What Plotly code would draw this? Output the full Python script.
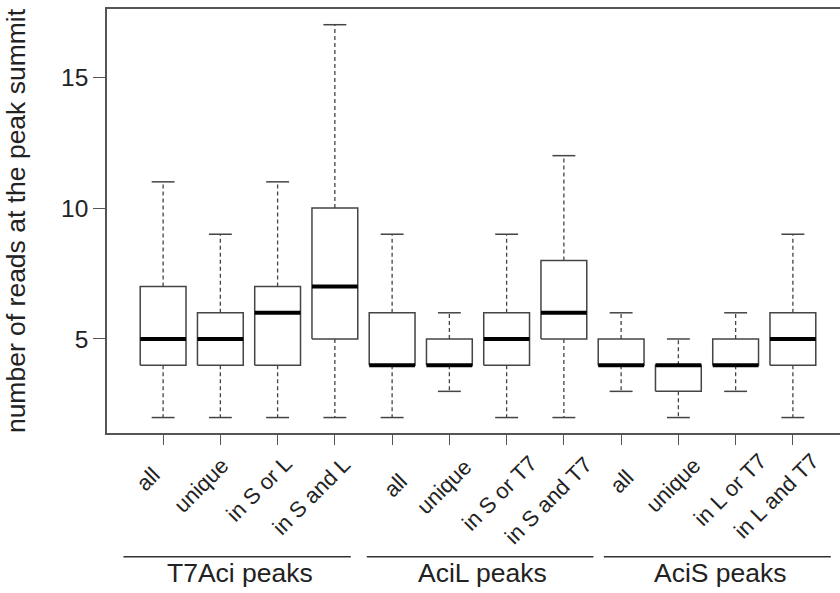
import plotly.graph_objects as go

# ---- data ----
categories = ["all", "unique", "in S or L", "in S and L",
              "all", "unique", "in S or T7", "in S and T7",
              "all", "unique", "in L or T7", "in L and T7"]
groups = ["T7Aci peaks", "AciL peaks", "AciS peaks"]
lower_whisker = [2, 2, 2, 2, 2, 3, 2, 2, 3, 2, 3, 2]
q1 =            [4, 4, 4, 5, 4, 4, 4, 5, 4, 3, 4, 4]
median =        [5, 5, 6, 7, 4, 4, 5, 6, 4, 4, 4, 5]
q3 =            [7, 6, 7, 10, 6, 5, 6, 8, 5, 4, 5, 6]
upper_whisker = [11, 9, 11, 17, 9, 6, 9, 12, 6, 5, 6, 9]
y_ticks = [5, 10, 15]

# ---- layout constants ----
FONT = "Liberation Sans, Arial, sans-serif"
FS_BIG = 26.5
FS_YT = 24.5
FS_XT = 22
TXT = "#222222"
LINE = "#444444"
BOXW = 0.4
CAPW = 0.2
W, H = 840, 593
ML, MR, MT, MB = 107, 0, 9, 160
X_RANGE = [0.02, 12.823]
Y_RANGE = [1.41, 17.6]
GROUP_SPANS = [(0.307, 4.279), (4.558, 8.516), (8.698, 12.663)]
# rotated category label placement: centre offset from tick (px) and centre height (px)
LABEL_DX = [-15.5, -19.5, -18.3, -23, 3, -5, -7.5, -15.7, 0.7, -5.8, -5.5, -16]
LABEL_CY = [479.2, 485, 488.3, 495.8, 485, 486.5, 493.3, 500, 481.7, 485, 489.2, 495.8]

xs = list(range(1, len(categories) + 1))

wx, wy, cx, cy, bx, by, mx, my = [], [], [], [], [], [], [], []
for i, x in enumerate(xs):
    wx += [x, x, None, x, x, None]
    wy += [q3[i], upper_whisker[i], None, q1[i], lower_whisker[i], None]
    cx += [x - CAPW, x + CAPW, None, x - CAPW, x + CAPW, None]
    cy += [upper_whisker[i], upper_whisker[i], None, lower_whisker[i], lower_whisker[i], None]
    bx += [x - BOXW, x + BOXW, x + BOXW, x - BOXW, x - BOXW, None]
    by += [q1[i], q1[i], q3[i], q3[i], q1[i], None]
    mx += [x - BOXW, x + BOXW, None]
    my += [median[i], median[i], None]

fig = go.Figure()
fig.add_trace(go.Scatter(x=wx, y=wy, mode="lines", hoverinfo="skip",
                         line=dict(color=LINE, width=1.3, dash="4px,3px")))
fig.add_trace(go.Scatter(x=bx, y=by, mode="lines", fill="toself", fillcolor="white",
                         hoverinfo="skip", line=dict(color=LINE, width=1.5)))
fig.add_trace(go.Scatter(x=cx, y=cy, mode="lines", hoverinfo="skip",
                         line=dict(color=LINE, width=1.5)))
fig.add_trace(go.Scatter(x=mx, y=my, mode="lines", hoverinfo="skip",
                         line=dict(color="black", width=4)))

def py_to_paper(py):
    return (H - MB - py) / (H - MT - MB)

shapes = []
annotations = []
for g, (a, b) in zip(groups, GROUP_SPANS):
    shapes.append(dict(type="line", xref="x", yref="paper", x0=a, x1=b,
                       y0=py_to_paper(556.7), y1=py_to_paper(556.7),
                       line=dict(color="#333333", width=1.5)))
    annotations.append(dict(text=g, xref="x", yref="paper", x=(a + b) / 2 + 0.05,
                            y=py_to_paper(572.5), yanchor="middle", xanchor="center",
                            showarrow=False, font=dict(family=FONT, size=FS_BIG, color=TXT)))

for x, lab, dx, cyp in zip(xs, categories, LABEL_DX, LABEL_CY):
    annotations.append(dict(text=lab, xref="x", yref="paper", x=x, xshift=dx,
                            y=py_to_paper(cyp), xanchor="center", yanchor="middle",
                            textangle=-45, showarrow=False,
                            font=dict(family=FONT, size=FS_XT, color=TXT)))

fig.update_layout(
    width=W, height=H,
    margin=dict(l=ML, r=MR, t=MT, b=MB, pad=0),
    paper_bgcolor="white", plot_bgcolor="white",
    showlegend=False,
    font=dict(family=FONT, size=FS_BIG, color=TXT),
    shapes=shapes, annotations=annotations,
    xaxis=dict(range=X_RANGE, tickvals=xs, showticklabels=False,
               showgrid=False, zeroline=False, showline=True, mirror=True,
               linecolor="#555555", linewidth=1.5, ticks="outside", ticklen=10,
               tickwidth=1.3, tickcolor="#555555"),
    yaxis=dict(range=Y_RANGE, tickvals=y_ticks, showgrid=False, zeroline=False,
               showline=True, mirror=False, linecolor="#555555", linewidth=1.5,
               ticks="outside", ticklen=12, tickwidth=1.3, tickcolor="#555555",
               tickfont=dict(family=FONT, size=FS_YT, color=TXT),
               title=dict(text="number of reads at the peak summit", standoff=28,
                          font=dict(family=FONT, size=FS_BIG, color=TXT))),
)

fig.write_html("out.html")
